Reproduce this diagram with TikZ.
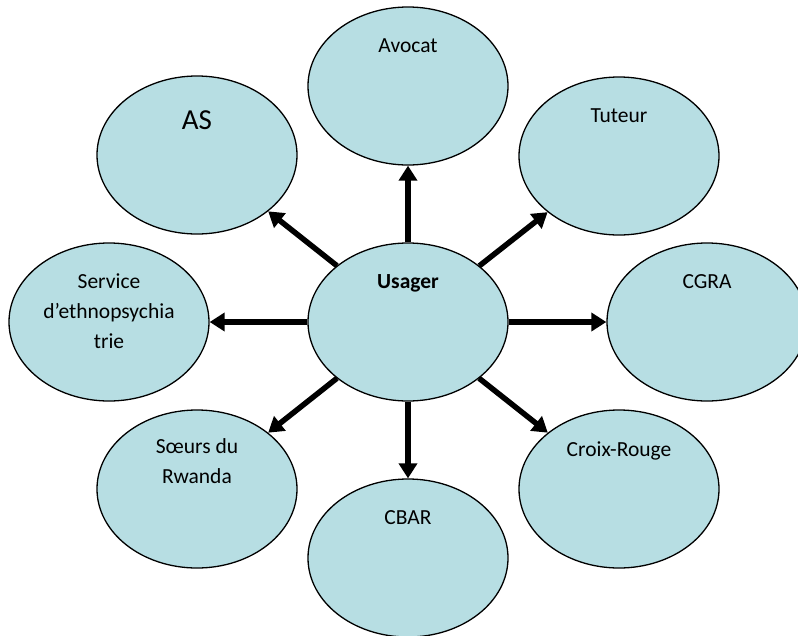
\documentclass[tikz,border=0pt]{standalone}
\usepackage{fontspec}
\setmainfont{Carlito}
\usetikzlibrary{arrows.meta,shapes.geometric}
\definecolor{bubble}{RGB}{183,222,227}
\tikzset{
  bubble/.style={ellipse, draw=black, line width=1.3pt, fill=bubble,
    minimum width=200pt, minimum height=158pt, inner sep=0pt},
  txt/.style={anchor=base, font=\fontsize{21.5}{30}\selectfont, align=center, inner sep=0pt},
  link/.style={line width=5.5pt, -{Triangle[length=15pt,width=18pt]}}
}
\begin{document}
\begin{tikzpicture}[x=1pt,y=-1pt]
\useasboundingbox (0,0) rectangle (798,635);
\node[bubble] (usager)  at (408,322) {};
\node[bubble] (avocat)  at (408,86) {};
\node[bubble] (tuteur)  at (619,156) {};
\node[bubble] (cgra)    at (707,322) {};
\node[bubble] (croix)   at (619,489) {};
\node[bubble] (cbar)    at (408,558) {};
\node[bubble] (soeurs)  at (197,489) {};
\node[bubble] (service) at (109,322) {};
\node[bubble] (as)      at (197,155) {};

\node[txt, font=\fontsize{21.5}{30}\selectfont\bfseries] (usager-t) at (408,288) {Usager};
\node[txt] (avocat-t) at (408,52) {Avocat};
\node[txt] (tuteur-t) at (619,122) {Tuteur};
\node[txt] (cgra-t) at (707,288) {CGRA};
\node[txt] (croix-t) at (619,456) {Croix-Rouge};
\node[txt] (cbar-t) at (408,524) {CBAR};
\node[txt] (soeurs-t) at (197,483) {Sœurs du\\Rwanda};
\node[txt] (service-t) at (109,348) {Service\\d’ethnopsychia\\trie};
\node[txt, font=\fontsize{29}{34}\selectfont] (as-t) at (197,129) {AS};

\draw[link] (usager) -- (avocat);
\draw[link] (usager) -- (tuteur);
\draw[link] (usager) -- (cgra);
\draw[link] (usager) -- (croix);
\draw[link] (usager) -- (cbar);
\draw[link] (usager) -- (soeurs);
\draw[link] (usager) -- (service);
\draw[link] (usager) -- (as);
\end{tikzpicture}
\end{document}
